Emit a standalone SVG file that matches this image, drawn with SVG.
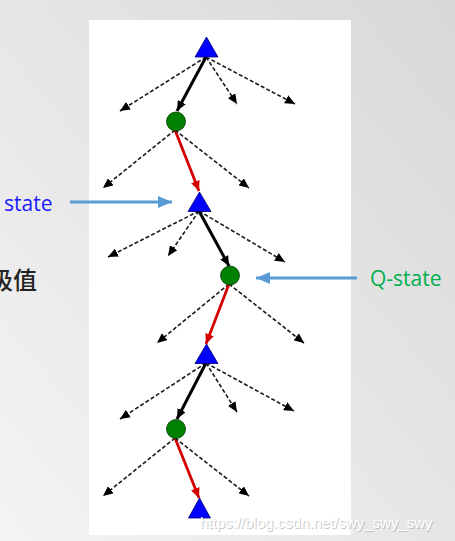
<svg xmlns="http://www.w3.org/2000/svg" width="455" height="541" viewBox="0 0 455 541">
<defs>
<linearGradient id="bg" x1="1" y1="0" x2="0" y2="1">
<stop offset="0" stop-color="#d8d8d8"/>
<stop offset="1" stop-color="#f4f4f4"/>
</linearGradient>
<marker id="ad" markerUnits="userSpaceOnUse" markerWidth="11" markerHeight="9" refX="10" refY="4.5" orient="auto"><path d="M0,0 L10,4.5 L0,9 z" fill="#000"/></marker>
<marker id="ab" markerUnits="userSpaceOnUse" markerWidth="11" markerHeight="9" refX="10" refY="4.5" orient="auto"><path d="M0,0 L10,4.5 L0,9 z" fill="#000"/></marker>
<marker id="ar" markerUnits="userSpaceOnUse" markerWidth="11" markerHeight="9" refX="10" refY="4.5" orient="auto"><path d="M0,0 L10,4.5 L0,9 z" fill="#d40000"/></marker>
<marker id="al" markerUnits="userSpaceOnUse" markerWidth="15" markerHeight="12" refX="14" refY="6" orient="auto"><path d="M0,0 L14,6 L0,12 z" fill="#5b9bd5"/></marker>
</defs>
<style>
.dash{stroke:#1a1a1a;stroke-width:1.6;stroke-dasharray:4 2.2;fill:none;marker-end:url(#ad)}
.blk{stroke:#000;stroke-width:3;fill:none;marker-end:url(#ab)}
.red{stroke:#d40000;stroke-width:2.8;fill:none;marker-end:url(#ar)}
.lab{stroke:#5b9bd5;stroke-width:3;fill:none;marker-end:url(#al)}
.max{fill:#0000ff;stroke:#00006e;stroke-width:0.8}
.chance{fill:#008000;stroke:#003800;stroke-width:0.8}
.wm{font-family:"Liberation Sans",Arial,sans-serif;font-size:15px}
</style>
<rect x="0" y="0" width="455" height="541" fill="url(#bg)"/>
<rect x="89" y="20" width="262" height="515" fill="#fff"/>
<g id="connectors">
<line class="dash" x1="206" y1="57" x2="120" y2="111"/>
<line class="blk" x1="206" y1="57" x2="177" y2="111"/>
<line class="dash" x1="206" y1="57" x2="237" y2="104"/>
<line class="dash" x1="206" y1="57" x2="295" y2="104"/>
<line class="dash" x1="175" y1="130" x2="103" y2="188"/>
<line class="red" x1="175" y1="130" x2="199" y2="191"/>
<line class="dash" x1="175" y1="130" x2="249" y2="188"/>
<line class="dash" x1="199" y1="211" x2="108" y2="257"/>
<line class="dash" x1="199" y1="211" x2="168" y2="256"/>
<line class="blk" x1="199" y1="211" x2="229" y2="266"/>
<line class="dash" x1="199" y1="211" x2="285" y2="262"/>
<line class="dash" x1="229" y1="284" x2="157" y2="343"/>
<line class="red" x1="229" y1="284" x2="206" y2="344"/>
<line class="dash" x1="229" y1="284" x2="304" y2="343"/>
<line class="dash" x1="206" y1="363" x2="120" y2="419"/>
<line class="blk" x1="206" y1="363" x2="177" y2="419"/>
<line class="dash" x1="206" y1="363" x2="237" y2="412"/>
<line class="dash" x1="206" y1="363" x2="294" y2="411"/>
<line class="dash" x1="175" y1="438" x2="103" y2="496"/>
<line class="red" x1="175" y1="438" x2="199" y2="498"/>
<line class="dash" x1="175" y1="438" x2="249" y2="496"/>
<line class="lab" x1="70" y1="202" x2="172" y2="202"/>
<line class="lab" x1="357" y1="278" x2="256" y2="278"/>
</g>
<g id="max1"><polygon class="max" points="206.5,37 218,57 195,57"/></g>
<g id="q1"><circle class="chance" cx="176" cy="121.5" r="9.5"/></g>
<g id="max2"><polygon class="max" points="199.5,192 211,211.5 188,211.5"/></g>
<g id="q2"><circle class="chance" cx="230" cy="275.5" r="9.5"/></g>
<g id="max3"><polygon class="max" points="206.5,344 218,363.5 195,363.5"/></g>
<g id="q3"><circle class="chance" cx="176" cy="429" r="9.5"/></g>
<g id="max4"><polygon class="max" points="199.5,498 210.5,518 188.5,518"/></g>
<g id="labels">
<text x="4" y="211" font-family="'Open Sans','Noto Sans',sans-serif" font-size="21" fill="#1a1aff">state</text>
<text x="370" y="286" font-family="'Open Sans','Noto Sans',sans-serif" font-size="21" fill="#00b050">Q-state</text>
<text x="37" y="289" text-anchor="end" font-family="'Noto Sans CJK SC',sans-serif" font-size="24" font-weight="500" fill="#222">极值</text>
</g>
<g id="watermark">
<text class="wm" x="201" y="529" fill="#b0b0b0" opacity="0.7">https://blog.csdn.net/swy_swy_swy</text>
<text class="wm" x="200" y="528" fill="#ffffff">https://blog.csdn.net/swy_swy_swy</text>
</g>
</svg>
